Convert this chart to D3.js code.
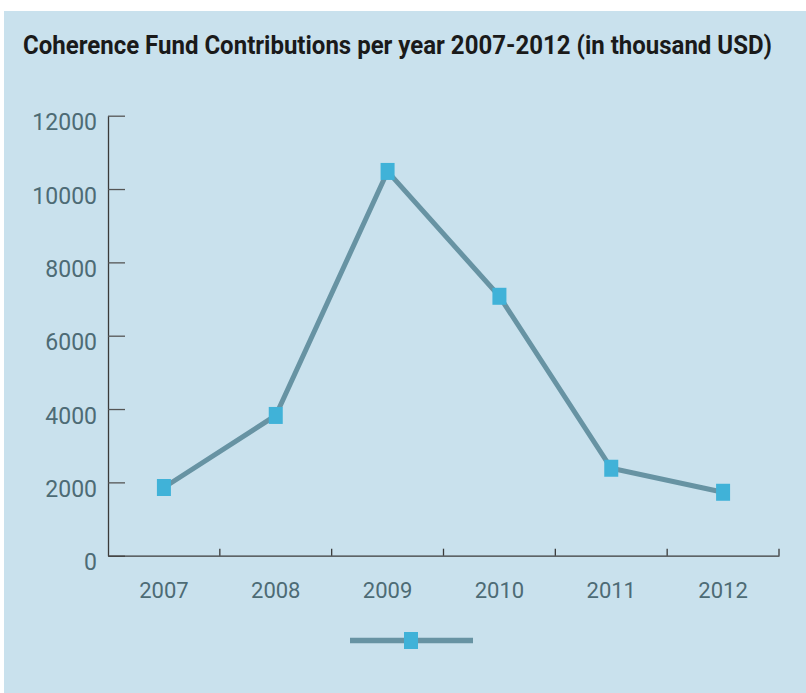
<!DOCTYPE html>
<html>
<head>
<meta charset="utf-8">
<script src="https://cdn.jsdelivr.net/npm/d3@7"></script>
<style>
  body { margin: 0; background: #fff; }
  svg { display: block; }
</style>
</head>
<body>
<div id="wrapper"></div>
<script>
const years = ['2007', '2008', '2009', '2010', '2011', '2012']
const contributions = [1860, 3825, 10480, 7075, 2385, 1730]
const yTicks = [0, 2000, 4000, 6000, 8000, 10000, 12000]
const titleText = 'Coherence Fund Contributions per year 2007-2012 (in thousand USD)'

const data = years.map((year, i) => ({ year, value: contributions[i] }))

const dms = {
    width: 806,
    height: 693,
    margin: { top: 115.7, right: 27, bottom: 137.3, left: 108 }
}
dms.chartWidth = dms.width - dms.margin.left - dms.margin.right
dms.chartHeight = dms.height - dms.margin.top - dms.margin.bottom

const lineColor = '#6793a3'
const markerColor = '#40b2d8'
const labelColor = '#4d6b75'
const axisColor = '#3a3a3a'

const svg = d3.select('#wrapper')
    .append('svg')
    .attr('width', dms.width)
    .attr('height', dms.height)

// panel background
svg.append('rect')
    .attr('x', 4)
    .attr('y', 11)
    .attr('width', dms.width - 4)
    .attr('height', dms.height - 11)
    .attr('fill', '#c9e1ed')

svg.append('text')
    .attr('x', 23)
    .attr('y', 54)
    .attr('textLength', 749)
    .attr('lengthAdjust', 'spacingAndGlyphs')
    .style('font-family', 'Roboto, sans-serif')
    .style('font-weight', 700)
    .style('font-size', '25px')
    .attr('fill', '#1a1a1a')
    .text(titleText)

const bounds = svg.append('g')
    .attr('transform', `translate(${dms.margin.left}, ${dms.margin.top})`)

const xScale = d3.scaleBand()
    .domain(years)
    .range([0, dms.chartWidth])
    .padding(0)

const yScale = d3.scaleLinear()
    .domain([0, 12000])
    .range([dms.chartHeight, 0])

const xCenter = d => xScale(d.year) + xScale.bandwidth() / 2

// y axis
const yAxis = bounds.append('g')
    .call(d3.axisLeft(yScale)
        .tickValues(yTicks)
        .tickFormat(d3.format('d'))
        .tickSizeInner(-17)
        .tickSizeOuter(0)
        .tickPadding(11))
yAxis.select('.domain').attr('stroke', axisColor).attr('stroke-width', 1.3)
yAxis.selectAll('.tick line').attr('stroke', '#555').attr('stroke-width', 1.3)
yAxis.selectAll('.tick text')
    .attr('dy', '0.62em')
    .attr('fill', labelColor)
    .style('font-family', 'Roboto, sans-serif')
    .style('font-size', '23px')

// x axis
const xAxis = bounds.append('g')
    .attr('transform', `translate(0, ${dms.chartHeight})`)
    .call(d3.axisBottom(xScale)
        .tickSize(0)
        .tickPadding(27))
xAxis.select('.domain').attr('stroke', axisColor).attr('stroke-width', 1.3)
xAxis.selectAll('.tick text')
    .attr('fill', labelColor)
    .style('font-family', 'Roboto, sans-serif')
    .style('font-size', '22px')

// band boundary ticks
xAxis.selectAll('.band-tick')
    .data(years)
    .join('line')
    .attr('class', 'band-tick')
    .attr('x1', d => xScale(d) + xScale.bandwidth())
    .attr('x2', d => xScale(d) + xScale.bandwidth())
    .attr('y1', 0)
    .attr('y2', -7)
    .attr('stroke', axisColor)
    .attr('stroke-width', 1.3)

// line
const lineGenerator = d3.line()
    .x(xCenter)
    .y(d => yScale(d.value))

bounds.append('path')
    .datum(data)
    .attr('d', lineGenerator)
    .attr('fill', 'none')
    .attr('stroke', lineColor)
    .attr('stroke-width', 5)
    .attr('stroke-linejoin', 'miter')

const markerW = 14
const markerH = 17
bounds.selectAll('.marker')
    .data(data)
    .join('rect')
    .attr('class', 'marker')
    .attr('x', d => xCenter(d) - markerW / 2)
    .attr('y', d => yScale(d.value) - markerH / 2)
    .attr('width', markerW)
    .attr('height', markerH)
    .attr('fill', markerColor)

// legend
const legend = svg.append('g')
    .attr('transform', 'translate(411, 640.5)')
legend.append('line')
    .attr('x1', -61)
    .attr('x2', 62)
    .attr('stroke', lineColor)
    .attr('stroke-width', 5.5)
legend.append('rect')
    .attr('x', -markerW / 2)
    .attr('y', -markerH / 2)
    .attr('width', markerW)
    .attr('height', markerH)
    .attr('fill', markerColor)
</script>
</body>
</html>
